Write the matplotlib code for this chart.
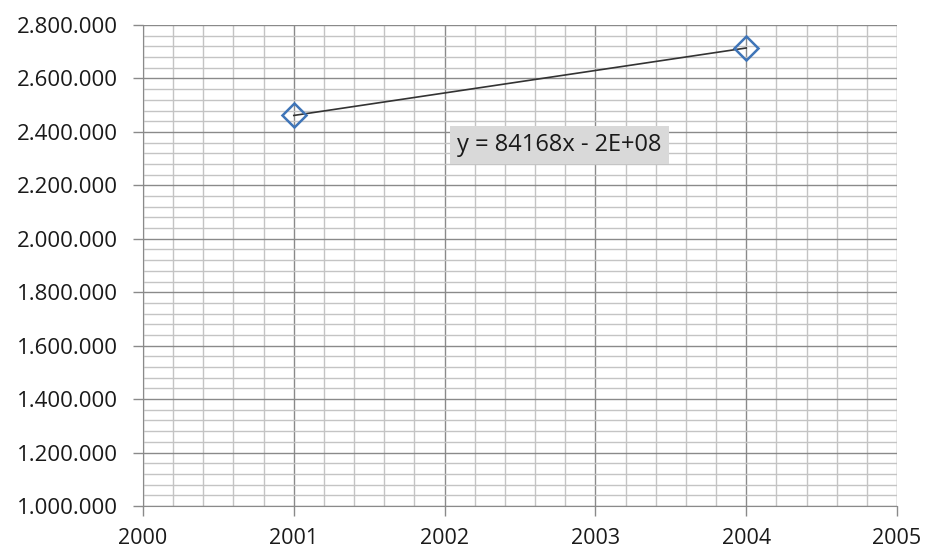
import matplotlib.pyplot as plt
from matplotlib.ticker import MultipleLocator, FuncFormatter

# data
years = [2001, 2004]
values = [2461500, 2714000]
trend_label = 'y = 84168x - 2E+08'

plt.rcParams['font.family'] = ['Open Sans', 'DejaVu Sans']

fig = plt.figure(figsize=(9.27, 5.51), dpi=100)
ax = fig.add_axes([143 / 927, 1 - 506 / 551, (897 - 143) / 927, (506 - 25) / 551])

ax.set_xlim(2000, 2005)
ax.set_ylim(1000000, 2800000)
ax.xaxis.set_major_locator(MultipleLocator(1))
ax.xaxis.set_minor_locator(MultipleLocator(0.2))
ax.yaxis.set_major_locator(MultipleLocator(200000))
ax.yaxis.set_minor_locator(MultipleLocator(40000))
ax.yaxis.set_major_formatter(FuncFormatter(lambda v, p: f'{int(v):,}'.replace(',', '.')))

ax.grid(which='major', color='#8a8a8a', linewidth=1.0)
ax.grid(which='minor', color='#c4c4c4', linewidth=1.0)
ax.set_axisbelow(True)

for s in ['top', 'right']:
    ax.spines[s].set_visible(False)
for s in ['left', 'bottom']:
    ax.spines[s].set_color('#8a8a8a')
ax.tick_params(which='major', length=7, width=1, color='#8a8a8a', labelcolor='#1a1a1a')
ax.tick_params(axis='y', which='major', labelsize=16, pad=11)
ax.tick_params(axis='x', which='major', labelsize=15.5, pad=9)
ax.tick_params(which='minor', length=0)

ax.plot(years, values, color='#333333', linewidth=1.2, zorder=3)
ax.plot(years, values, linestyle='none', marker='D', markersize=12, markerfacecolor='none',
        markeredgecolor='#3f75b8', markeredgewidth=1.8, zorder=4)

fig.text(457 / 927, 1 - 145 / 551, trend_label, fontsize=17, color='#1a1a1a', va='center', ha='left',
         bbox=dict(boxstyle='square,pad=0.3', facecolor='#d9d9d9', edgecolor='none'))

fig.savefig('out.png', dpi=100)
